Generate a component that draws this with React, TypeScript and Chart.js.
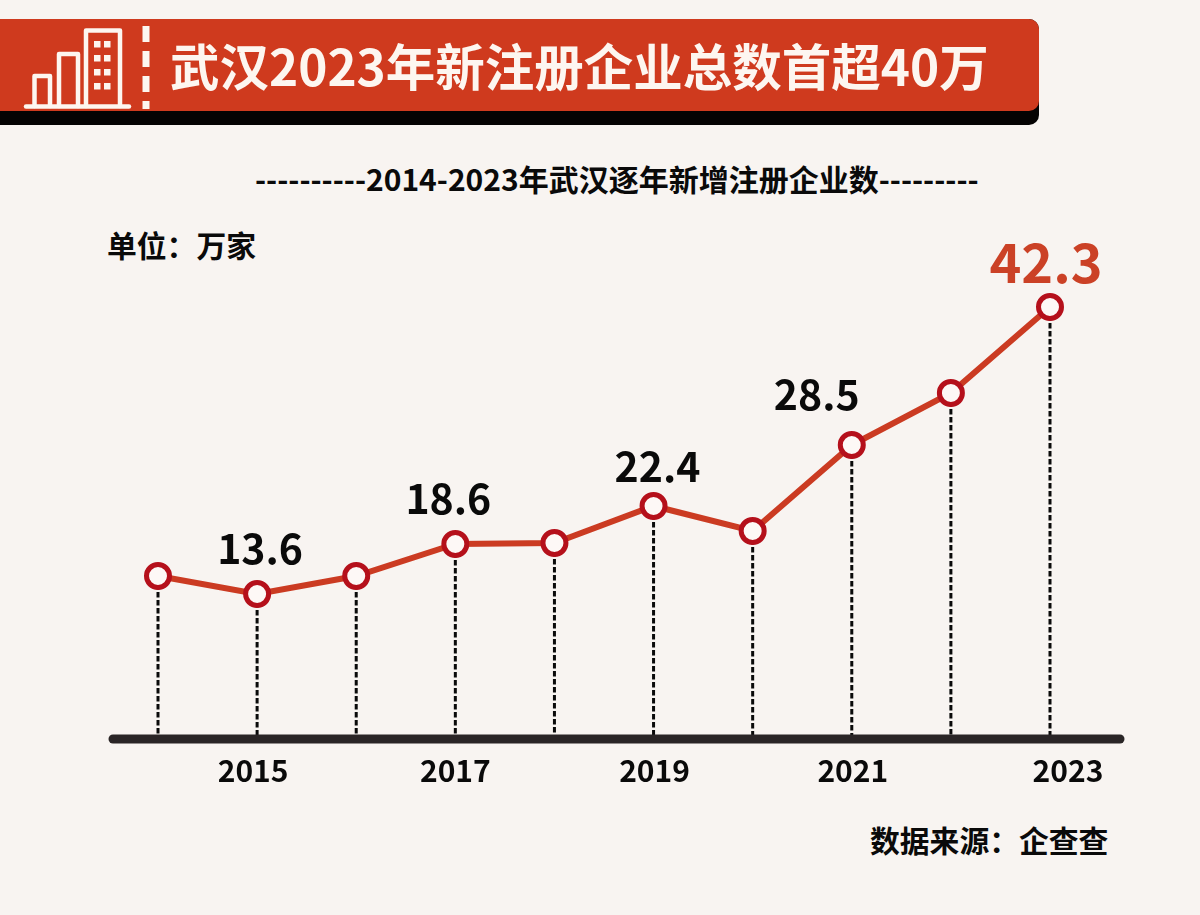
import React, { useEffect, useRef } from "react";
import { Chart, registerables } from "chart.js";

Chart.register(...registerables);

const FONT = '"Noto Sans CJK SC", "Noto Sans", sans-serif';

const years = ["2014", "2015", "2016", "2017", "2018", "2019", "2020", "2021", "2022", "2023"];
const newCompanies = [15.4, 13.6, 15.4, 18.6, 18.7, 22.4, 19.9, 28.5, 33.7, 42.3];
const labelledYears = ["2015", "2017", "2019", "2021", "2023"];

const titleText = "武汉2023年新注册企业总数首超40万";
const subtitleText = "----------2014-2023年武汉逐年新增注册企业数---------";
const unitText = "单位：万家";
const sourceText = "数据来源：企查查";

const valueLabelOffsets: Record<string, [number, number]> = {
  "2015": [3, -46],
  "2017": [-7, -46],
  "2019": [4, -40],
  "2021": [-35, -51],
  "2023": [-4, -45],
};
const tickOffsets: Record<string, number> = { "2015": -4, "2017": 0, "2019": 1, "2021": 1, "2023": 18 };

const chartDecor = {
  id: "chartDecor",
  beforeDraw(chart: any) {
    const xs = chart.scales.x;
    xs.getLabelItems().forEach((item: any) => {
      const dx = tickOffsets[item.label] ?? 0;
      if (dx && !item.shifted) {
        item.options.translation[0] += dx;
        item.shifted = true;
      }
    });
  },
  beforeDatasetsDraw(chart: any) {
    const { ctx, chartArea } = chart;
    const meta = chart.getDatasetMeta(0);
    ctx.save();
    ctx.strokeStyle = "#0a0a0a";
    ctx.lineWidth = 3;
    ctx.setLineDash([5.5, 2.5]);
    meta.data.forEach((pt: any) => {
      ctx.beginPath();
      ctx.moveTo(pt.x, pt.y);
      ctx.lineTo(pt.x, chartArea.bottom);
      ctx.stroke();
    });
    ctx.setLineDash([]);
    ctx.strokeStyle = "#2a2526";
    ctx.lineWidth = 9;
    ctx.lineCap = "round";
    ctx.beginPath();
    ctx.moveTo(chartArea.left - 45, chartArea.bottom);
    ctx.lineTo(chartArea.right + 70, chartArea.bottom);
    ctx.stroke();
    ctx.restore();
  },
  afterDatasetsDraw(chart: any) {
    const { ctx } = chart;
    const meta = chart.getDatasetMeta(0);
    ctx.save();
    ctx.textAlign = "center";
    ctx.textBaseline = "middle";
    years.forEach((year, i) => {
      const off = valueLabelOffsets[year];
      if (!off) return;
      const last = year === "2023";
      ctx.font = `700 ${last ? 54 : 41}px ${FONT}`;
      ctx.fillStyle = last ? "#cb4126" : "#0a0a0a";
      ctx.fillText(String(newCompanies[i]), meta.data[i].x + off[0], meta.data[i].y + off[1]);
    });
    ctx.restore();
  },
};

const textStyle: React.CSSProperties = {
  position: "absolute",
  fontFamily: FONT,
  fontWeight: 700,
  whiteSpace: "nowrap",
  lineHeight: 1,
};

function BuildingIcon() {
  const windows: [number, number][] = [];
  [41, 55, 69, 83].forEach((y) => [94, 104].forEach((x) => windows.push([x, y])));
  return (
    <svg width="160" height="111" style={{ position: "absolute", left: 0, top: 0 }}>
      <g fill="none" stroke="#fdf6f0" strokeWidth="4.5" strokeLinejoin="round" strokeLinecap="round">
        <path d="M26 106.5H129" />
        <path d="M34.5 106V76H50V106" />
        <path d="M59 106V54H78V106" />
        <path d="M86 106V30.5H120V106" />
      </g>
      {windows.map(([x, y]) => (
        <rect key={`${x}-${y}`} x={x} y={y} width="6.5" height="6.5" fill="#fdf6f0" />
      ))}
      <path d="M146 26V109" stroke="#fdf6f0" strokeWidth="7" strokeDasharray="16 9" fill="none" />
    </svg>
  );
}

export default function App() {
  const ref = useRef<HTMLCanvasElement>(null);
  useEffect(() => {
    const chart = new Chart(ref.current as HTMLCanvasElement, {
      type: "line",
      data: {
        labels: years,
        datasets: [
          {
            data: newCompanies,
            borderColor: "#cb3b22",
            borderWidth: 6,
            tension: 0,
            pointRadius: 11.5,
            pointHoverRadius: 11.5,
            pointBorderWidth: 5,
            pointBorderColor: "#b5101b",
            pointBackgroundColor: "#fdf8f6",
          },
        ],
      },
      options: {
        responsive: false,
        animation: false,
        layout: { padding: { left: 158, right: 150, top: 270, bottom: 112 } },
        plugins: { legend: { display: false }, tooltip: { enabled: false } },
        scales: {
          x: {
            type: "category",
            offset: false,
            grid: { display: false, drawTicks: false },
            border: { display: false },
            ticks: {
              autoSkip: false,
              maxRotation: 0,
              padding: 14,
              color: "#0a0a0a",
              font: { family: FONT, size: 30, weight: "700", lineHeight: 1.2 },
              callback(this: any, value: any) {
                const label = this.getLabelForValue(value);
                return labelledYears.includes(label) ? label : "";
              },
            },
          },
          y: { display: false, min: -0.9, max: 46 },
        },
      },
      plugins: [chartDecor],
    });
    return () => chart.destroy();
  }, []);

  return (
    <div style={{ position: "absolute", left: 0, top: 0, width: 1200, height: 915, background: "#f8f4f1", overflow: "hidden" }}>
      <div style={{ position: "absolute", left: 0, top: 19, width: 1039, height: 106, background: "#050303", borderRadius: "0 10px 10px 0" }} />
      <div style={{ position: "absolute", left: 0, top: 19, width: 1039, height: 92, background: "#cf3a1e", borderRadius: "0 10px 10px 0" }} />
      <BuildingIcon />
      <div style={{ ...textStyle, left: 170, top: 40, fontSize: 49.5, color: "#fdf6f0" }}>{titleText}</div>
      <div style={{ ...textStyle, left: 255, top: 163, fontSize: 30, color: "#0a0a0a" }}>{subtitleText}</div>
      <div style={{ ...textStyle, left: 107, top: 230, fontSize: 29.8, color: "#0a0a0a" }}>{unitText}</div>
      <div style={{ ...textStyle, left: 870, top: 825, fontSize: 29.8, color: "#0a0a0a" }}>{sourceText}</div>
      <canvas ref={ref} width={1200} height={915} style={{ position: "absolute", left: 0, top: 0 }} />
    </div>
  );
}
